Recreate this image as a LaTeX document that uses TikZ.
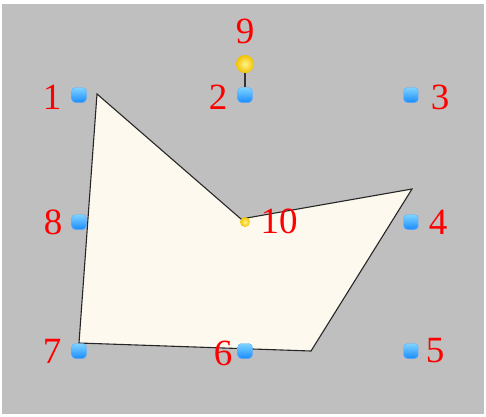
\documentclass[tikz,border=0pt]{standalone}
\usepackage{fontspec}
\setmainfont{Liberation Serif}
\definecolor{bg}{HTML}{BFBFBF}
\definecolor{cream}{HTML}{FDF9EE}
\definecolor{handletop}{HTML}{7FD4FF}
\definecolor{handlebot}{HTML}{1A8CFF}
\definecolor{dotin}{HTML}{FFF38A}
\definecolor{dotout}{HTML}{F2C200}
\tikzset{
  handle/.style={rectangle, rounded corners=4pt, minimum size=15pt, inner sep=0pt,
    top color=handletop, bottom color=handlebot, draw=handlebot!70!white, line width=0.4pt},
  lbl/.style={text=red, inner sep=0pt, font=\fontsize{37}{37}\selectfont},
  bigdot/.style={circle, minimum size=18pt, inner sep=0pt, inner color=dotin, outer color=dotout},
  smalldot/.style={circle, minimum size=10pt, inner sep=0pt, inner color=dotin, outer color=dotout},
}
\begin{document}
\begin{tikzpicture}[x=1pt,y=-1pt]
\useasboundingbox (0,0) rectangle (486,416);
\fill[white] (0,0) rectangle (486,416);
\fill[bg] (2,4) rectangle (484,414);
% polygon
\coordinate (p1) at (97,94);
\coordinate (p2) at (241,219);
\coordinate (p3) at (412,189);
\coordinate (p4) at (311,351);
\coordinate (p5) at (79,343);
\filldraw[fill=cream, draw=black!85, line width=1.1pt, line join=miter] (p1) -- (p2) -- (p3) -- (p4) -- (p5) -- cycle;
% handles
\node[handle] (h1) at (79,95) {};
\node[handle] (h2) at (245,95) {};
\node[handle] (h3) at (411,95) {};
\node[handle] (h4) at (411,222) {};
\node[handle] (h5) at (411,351) {};
\node[handle] (h6) at (245,351) {};
\node[handle] (h7) at (79,351) {};
\node[handle] (h8) at (79,222) {};
\node[bigdot] (h9) at (245,64) {};
\node[smalldot] (h10) at (245,222) {};
\draw[black!80, line width=1.4pt] (h9) -- (h2);
% labels
\node[lbl] (l1) at (52,97) {1};
\node[lbl] (l2) at (218,97) {2};
\node[lbl] (l3) at (440,97) {3};
\node[lbl] (l4) at (438,222) {4};
\node[lbl] (l5) at (435,351) {5};
\node[lbl] (l6) at (223,353) {6};
\node[lbl] (l7) at (52,351) {7};
\node[lbl] (l8) at (53,222) {8};
\node[lbl] (l9) at (245,31) {9};
\node[lbl] (l10) at (279,221) {10};
\end{tikzpicture}
\end{document}
